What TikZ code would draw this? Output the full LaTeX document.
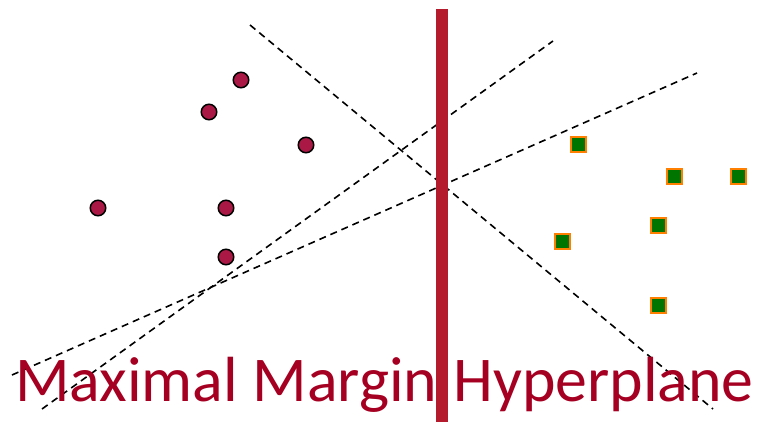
\documentclass[tikz,border=0pt]{standalone}
\usepackage{fontspec}
\setmainfont{Carlito}
\definecolor{titlered}{RGB}{165,0,33}
\definecolor{barred}{RGB}{180,27,45}
\definecolor{dotred}{RGB}{170,25,70}
\definecolor{sqgreen}{RGB}{0,118,0}
\definecolor{sqorange}{RGB}{255,128,0}
\begin{document}
\begin{tikzpicture}[x=1pt,y=-1pt,
  dotpt/.style={circle,draw=black,line width=1.5pt,fill=dotred,minimum size=15.5pt,inner sep=0pt},
  sqpt/.style={rectangle,draw=sqorange,line width=2pt,fill=sqgreen,minimum size=15pt,inner sep=0pt},
  sepline/.style={line width=1.6pt,dash pattern=on 7pt off 5pt,black}]
\useasboundingbox (0,0) rectangle (757,422);
% dashed separating lines
\coordinate (a1) at (250,25);
\coordinate (a2) at (713,409);
\coordinate (b1) at (42,409);
\coordinate (b2) at (553,41);
\coordinate (c1) at (12,375);
\coordinate (c2) at (697,73);
\draw[sepline] (a1) -- (a2);
\draw[sepline] (b1) -- (b2);
\draw[sepline] (c1) -- (c2);
% title
\node[anchor=base west,inner sep=0pt,text=titlered,font=\fontsize{63.8}{64}\selectfont] (title) at (15,401) {Maximal Margin\hspace{16.5pt}Hyperplane};
% maximal margin hyperplane
\fill[barred] (436,9) rectangle (448,422);
\coordinate (bartop) at (442,9);
% red class
\node[dotpt] (r1) at (241,80) {};
\node[dotpt] (r2) at (209,112) {};
\node[dotpt] (r3) at (306,145) {};
\node[dotpt] (r4) at (98,208) {};
\node[dotpt] (r5) at (226,208) {};
\node[dotpt] (r6) at (226,257) {};
% green class
\node[sqpt] (g1) at (578,145) {};
\node[sqpt] (g2) at (674,177) {};
\node[sqpt] (g3) at (738,177) {};
\node[sqpt] (g4) at (658,225) {};
\node[sqpt] (g5) at (562,241) {};
\node[sqpt] (g6) at (658,305) {};
\end{tikzpicture}
\end{document}
